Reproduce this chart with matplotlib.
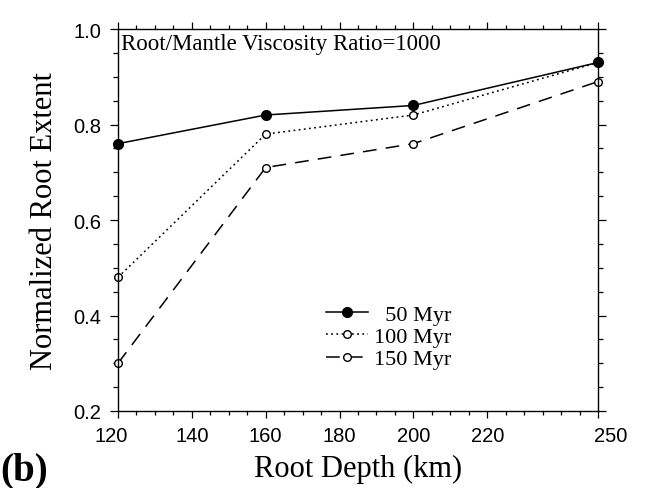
import matplotlib
matplotlib.use("Agg")
import matplotlib.pyplot as plt
import matplotlib.transforms as mtransforms
from matplotlib.ticker import FixedLocator, MultipleLocator

depth = [120, 160, 200, 250]
extent_50 = [0.76, 0.82, 0.84, 0.93]
extent_100 = [0.48, 0.78, 0.82, 0.93]
extent_150 = [0.30, 0.71, 0.76, 0.89]

x_ticks = [120, 140, 160, 180, 200, 220, 250]
y_ticks = [0.2, 0.4, 0.6, 0.8, 1.0]

serif = "Liberation Serif"
sans = "Liberation Sans"

fig = plt.figure(figsize=(6.46, 4.89), dpi=100)
ax = fig.add_axes([0.1827, 0.1575, 0.743, 0.781])

ax.plot(depth, extent_50, color="black", lw=1.1, marker="o", ms=7,
        mfc="black", mec="black", label="  50 Myr", clip_on=False, zorder=3)
ax.plot(depth, extent_100, color="black", lw=1.1, ls=(0, (1.2, 2.2)),
        marker="o", ms=5.5, mfc="white", mec="black", mew=1.0,
        label="100 Myr", clip_on=False, zorder=2)
ax.plot(depth, extent_150, color="black", lw=1.1, ls=(0, (9, 6)),
        marker="o", ms=5.5, mfc="white", mec="black", mew=1.0,
        label="150 Myr", clip_on=False, zorder=2)

ax.set_xlim(120, 250)
ax.set_ylim(0.2, 1.0)
ax.xaxis.set_major_locator(FixedLocator(x_ticks))
ax.xaxis.set_minor_locator(MultipleLocator(5))
ax.yaxis.set_major_locator(FixedLocator(y_ticks))
ax.yaxis.set_minor_locator(MultipleLocator(0.05))
ax.set_xticklabels([str(t) for t in x_ticks])
ax.set_yticklabels([f"{t:.1f}" for t in y_ticks])

ax.tick_params(which="both", direction="out", top=True, right=True,
               width=0.9, colors="black")
ax.tick_params(axis="x", which="major", length=5, pad=6)
ax.tick_params(axis="x", which="minor", length=3)
ax.tick_params(axis="y", which="major", length=6, pad=6)
ax.tick_params(axis="y", which="minor", length=3.5)
for lab in ax.get_xticklabels() + ax.get_yticklabels():
    lab.set_fontfamily(sans)
    lab.set_fontsize(14.5)
for sp in ax.spines.values():
    sp.set_linewidth(1.0)

# nudge the end labels like the original
labels = ax.get_xticklabels()
labels[0].set_transform(labels[0].get_transform()
                        + mtransforms.ScaledTranslation(-7 / 100, 0, fig.dpi_scale_trans))
labels[-1].set_transform(labels[-1].get_transform()
                         + mtransforms.ScaledTranslation(13 / 100, 0, fig.dpi_scale_trans))

ax.set_xlabel("Root Depth (km)", fontfamily=serif, fontsize=22, labelpad=6)
ax.set_ylabel("Normalized Root Extent", fontfamily=serif, fontsize=22, labelpad=10)

ax.text(0.006, 0.99, "Root/Mantle Viscosity Ratio=1000", transform=ax.transAxes,
        ha="left", va="top", fontfamily=serif, fontsize=16.5)

ax.legend(loc="lower left", bbox_to_anchor=(0.41, 0.08), frameon=False,
          prop={"family": serif, "size": 16}, handlelength=1.9,
          handletextpad=0.25, labelspacing=0.08, borderpad=0)

fig.text(0.0, 0.018, "(b)", fontfamily=serif, fontweight="bold", fontsize=28,
         ha="left", va="baseline")

fig.savefig("out.png", dpi=100)
plt.close(fig)
